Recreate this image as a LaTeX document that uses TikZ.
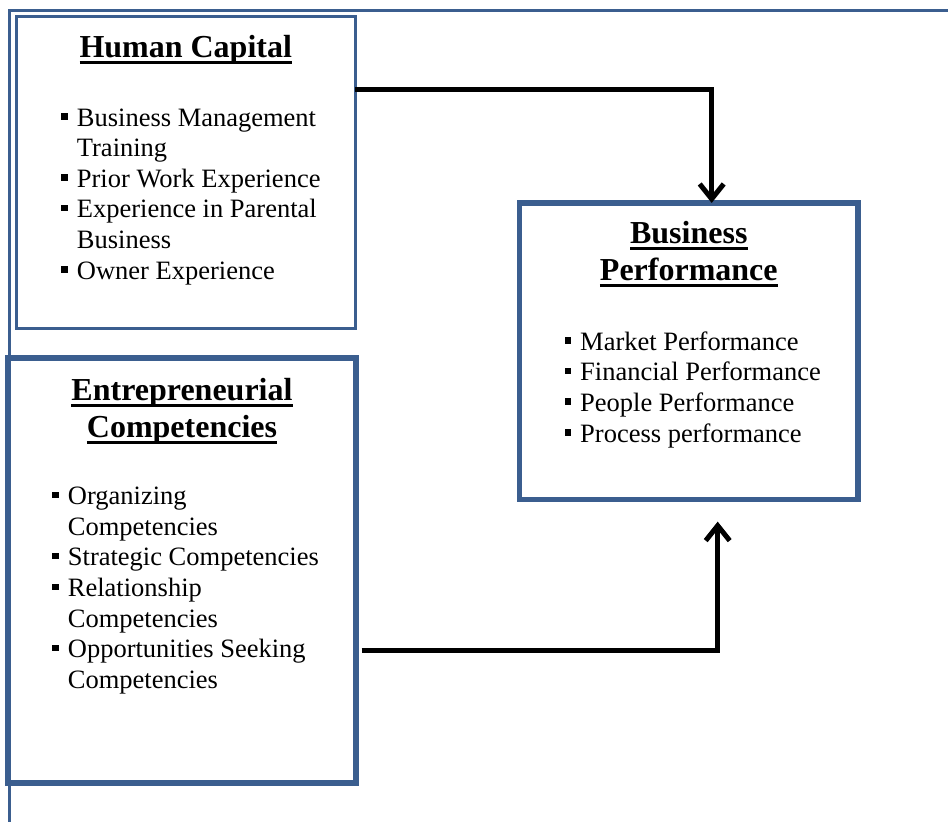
\documentclass[tikz,border=0pt]{standalone}
\usepackage{fontspec}
\setmainfont{Liberation Serif}
\usetikzlibrary{arrows.meta}
\definecolor{boxblue}{HTML}{3B5E8F}
\newcommand{\ttl}[1]{\setbox0\hbox{#1}\rlap{\rule[-7pt]{\wd0}{3pt}}\box0}
\newcommand{\itm}{\llap{\rule[6.5pt]{6.5pt}{6.5pt}\hspace{9pt}}}
\begin{document}
\begin{tikzpicture}[x=1pt,y=-1pt,
	box/.style={draw=boxblue,inner sep=0pt,outer sep=0pt},
	head/.style={font=\fontsize{32}{37}\selectfont\bfseries,align=center,anchor=base,inner sep=0pt},
	items/.style={font=\fontsize{26.5}{30.6}\selectfont,align=left,anchor=base west,inner sep=0pt},
	flow/.style={line width=5pt,-{Straight Barb[length=15pt,width=24pt]}}]
	\useasboundingbox (0,0) rectangle (948,822);
	\draw[boxblue,line width=2.5pt] (948,10.5) -- (9.5,10.5) -- (9.5,822);
	
	\node[box,line width=3pt,minimum width=338.5pt,minimum height=312pt] (hc) at (185.75,172.5) {};
	\node[box,line width=5.5pt,minimum width=348pt,minimum height=425pt] (ec) at (182,570.5) {};
	\node[box,line width=5.5pt,minimum width=338.3pt,minimum height=296.7pt] (bp) at (688.8,351.3) {};
	
	\node[head] (hctitle) at (185.75,57) {\ttl{Human Capital}};
	\node[items] (hclist) at (76.7,279) {\itm Business Management\\Training\\\itm Prior Work Experience\\\itm Experience in Parental\\Business\\\itm Owner Experience};
	
	\node[head] (ectitle) at (182,437) {\ttl{Entrepreneurial}\\\ttl{Competencies}};
	\node[items] (eclist) at (67.7,688.3) {\itm Organizing\\Competencies\\\itm Strategic Competencies\\\itm Relationship\\Competencies\\\itm Opportunities Seeking\\Competencies};
	
	\node[head] (bptitle) at (688.8,280) {\ttl{Business}\\\ttl{Performance}};
	\node[items] (bplist) at (580,442) {\itm Market Performance\\\itm Financial Performance\\\itm People Performance\\\itm Process performance};
	
	\draw[flow] ([yshift=82.8pt]hc.east) -| ([xshift=22.9pt]bp.north);
	\draw[flow] ([xshift=5.7pt,yshift=-79.5pt]ec.east) -| ([xshift=28.9pt,yshift=-22pt]bp.south);
\end{tikzpicture}
\end{document}
